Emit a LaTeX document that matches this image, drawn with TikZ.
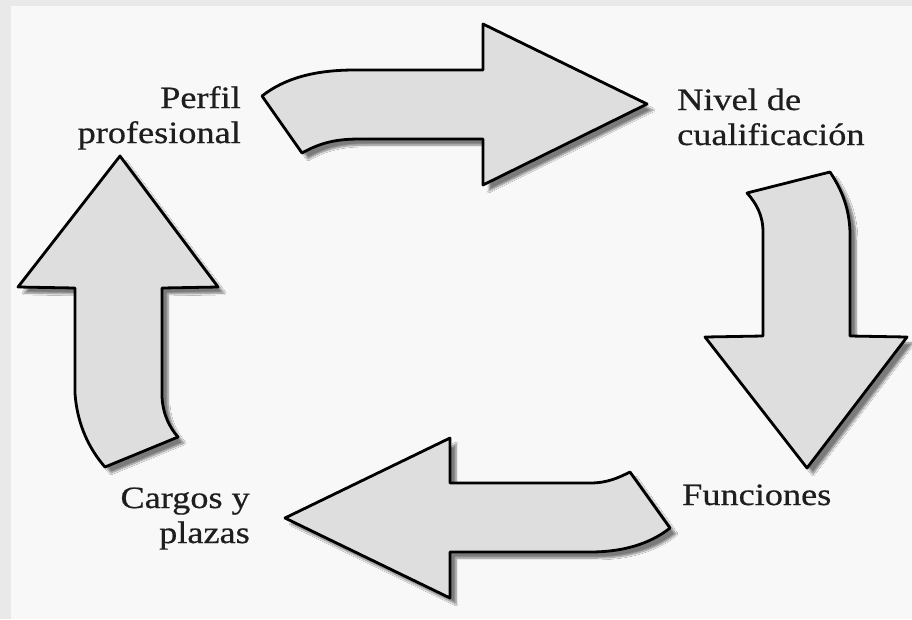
\documentclass[tikz,border=0pt]{standalone}
\usepackage{fontspec}
\setmainfont{Liberation Serif}[FakeStretch=1.17, FakeBold=0.6]
\usetikzlibrary{shadows.blur}
\definecolor{bgmain}{HTML}{F8F8F8}
\definecolor{bgedge}{HTML}{E9E9E9}
\definecolor{arrowfill}{HTML}{DEDEDE}
\definecolor{txt}{HTML}{1E1E1E}
\tikzset{
  arrowshape/.style={draw=black, line width=2.8pt, fill=arrowfill, line join=round,
    blur shadow={shadow xshift=6pt, shadow yshift=-6pt, shadow blur steps=7, shadow opacity=50}},
  lbl/.style={inner sep=0pt, text=txt, font=\fontsize{31}{35}\selectfont}
}
\begin{document}
\begin{tikzpicture}[x=1pt, y=-1pt]
\useasboundingbox (0,0) rectangle (912,619);
\fill[bgmain] (0,0) rectangle (912,619);
\fill[bgedge] (0,0) rectangle (11,619);
\fill[bgedge] (0,0) rectangle (912,6);

% top arrow (right)
\path[arrowshape] (262,96) .. controls (285,78) and (315,70) .. (355,70) -- (483,70) -- (483,24)
  -- (647,104) -- (483,185) -- (483,139) -- (360,139)
  .. controls (335,139) and (320,143) .. (302,153) -- cycle;
% right arrow (down)
\path[arrowshape] (747,193) -- (830,172) .. controls (840,187) and (850,207) .. (850,235)
  -- (850,336) -- (907,337) -- (807,468) -- (705,337) -- (763,336) -- (763,232)
  .. controls (763,215) and (756,203) .. cycle;
% bottom arrow (left)
\path[arrowshape] (285,518) -- (450,438) -- (450,483) -- (590,483)
  .. controls (607,483) and (618,478) .. (630,472) -- (670,528)
  .. controls (655,540) and (630,552) .. (590,552) -- (450,552) -- (450,598) -- cycle;
% left arrow (up)
\path[arrowshape] (120,156) -- (218,287) -- (162,288) -- (162,397)
  .. controls (163,415) and (170,428) .. (178,437) -- (105,467)
  .. controls (90,450) and (77,425) .. (75,393) -- (75,288) -- (18,287) -- cycle;

\node[lbl, anchor=base east, align=right] (perfil) at (241,143) {Perfil\\profesional};
\node[lbl, anchor=base west, align=left] (nivel) at (677,145) {Nivel de\\cualificación};
\node[lbl, anchor=base west] (funciones) at (682,505) {Funciones};
\node[lbl, anchor=base east, align=right] (cargos) at (250,543) {Cargos y\\plazas};
\end{tikzpicture}
\end{document}
